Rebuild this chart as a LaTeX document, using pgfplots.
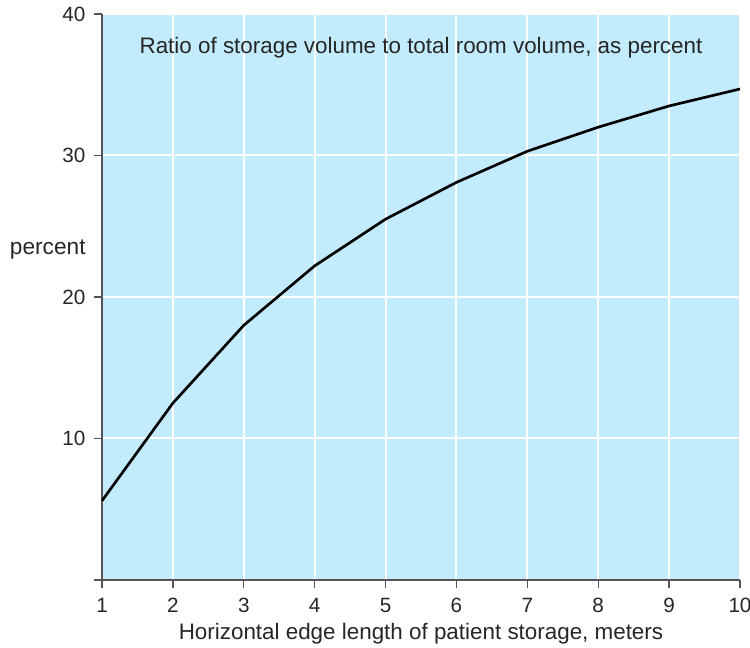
\documentclass[border=0pt]{standalone}
\usepackage{pgfplots}
\pgfplotsset{compat=1.18}
\usepackage{fontspec}
\setmainfont{Liberation Sans}
\definecolor{bgblue}{RGB}{194,236,253}
\definecolor{axgray}{RGB}{85,85,85}
\begin{document}
\begin{tikzpicture}[x=1pt,y=1pt]
\fontsize{16pt}{18pt}\selectfont
\path[use as bounding box] (-76.5,-51) rectangle (486,435);
\begin{axis}[
  scale only axis,
  width=478.5pt, height=424.5pt,
  at={(0,0)}, anchor=south west,
  xmin=1, xmax=10, ymin=0, ymax=40,
  xtick={1,...,10}, ytick={0,10,20,30,40},
  yticklabels={,10,20,30,40},
  axis background/.style={fill=bgblue},
  grid=major,
  major grid style={white, line width=1.5pt},
  axis x line*=bottom, axis y line*=left,
  axis line style={axgray, line width=1.3pt, -},
  tick style={axgray, line width=1pt},
  tick align=outside,
  major tick length=6pt,
  /pgf/number format/assume math mode=true,
  ticklabel style={font=\fontsize{15.5pt}{18pt}\selectfont, text=black!85},
  xticklabel style={yshift=-2pt},
  yticklabel style={xshift=-1pt},
  clip=false,
]
\addplot[black, line width=2pt] coordinates {
(1,5.6) (2,12.5) (3,18.0) (4,22.2) (5,25.5) (6,28.1) (7,30.3) (8,32.0) (9,33.5) (10,34.7)
};
\node[font=\fontsize{16.8pt}{18pt}\selectfont, text=black!85] at (axis description cs:0.5,0.94) {Ratio of storage volume to total room volume, as percent};
\node[font=\fontsize{17pt}{18pt}\selectfont, text=black!85] at (axis description cs:-0.085,0.583) {percent};
\node[font=\fontsize{16.8pt}{18pt}\selectfont, text=black!85] at (axis description cs:0.5,-0.095) {Horizontal edge length of patient storage, meters};
\end{axis}
\end{tikzpicture}
\end{document}
